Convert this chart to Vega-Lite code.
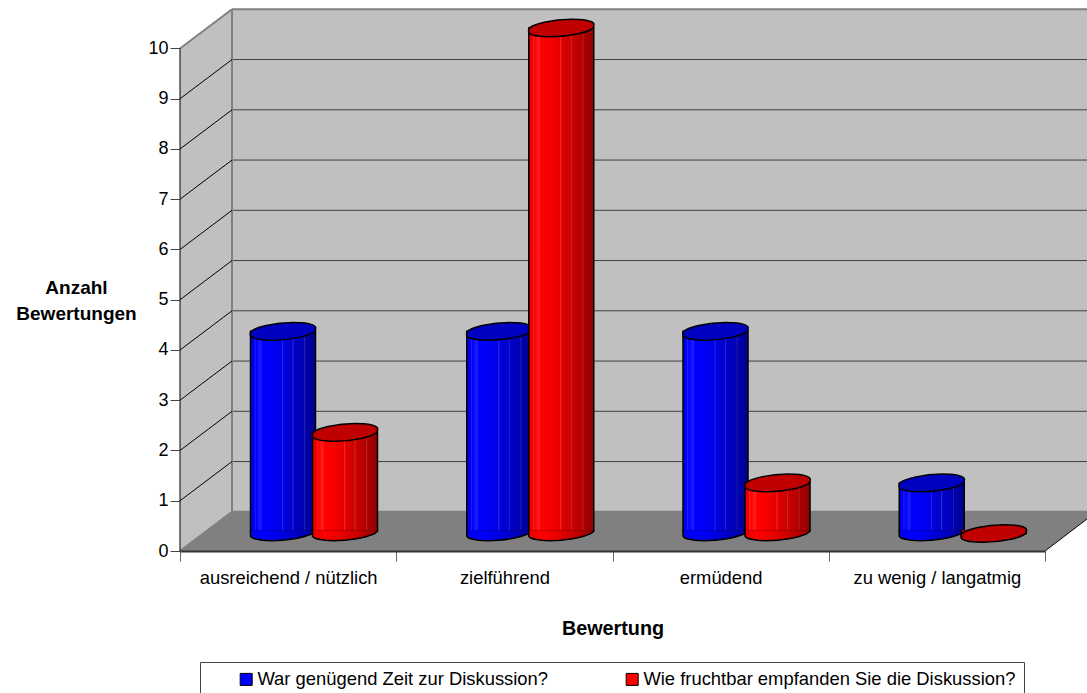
{
  "$schema": "https://vega.github.io/schema/vega-lite/v6.json",
  "autosize": "none",
  "width": 907,
  "height": 551,
  "padding": {"left": 180, "top": 0, "right": 0, "bottom": 142},
  "background": "white",
  "config": {
    "view": {"stroke": null},
    "font": "Liberation Sans",
    "axis": {"grid": false, "labelFont": "Liberation Sans", "titleFont": "Liberation Sans", "labelColor": "black", "titleColor": "black"}
  },
  "datasets": {
    "ratings": [
      {"bewertung": "ausreichend / nützlich", "frage": "War genügend Zeit zur Diskussion?", "anzahl": 4},
      {"bewertung": "ausreichend / nützlich", "frage": "Wie fruchtbar empfanden Sie die Diskussion?", "anzahl": 2},
      {"bewertung": "zielführend", "frage": "War genügend Zeit zur Diskussion?", "anzahl": 4},
      {"bewertung": "zielführend", "frage": "Wie fruchtbar empfanden Sie die Diskussion?", "anzahl": 10},
      {"bewertung": "ermüdend", "frage": "War genügend Zeit zur Diskussion?", "anzahl": 4},
      {"bewertung": "ermüdend", "frage": "Wie fruchtbar empfanden Sie die Diskussion?", "anzahl": 1},
      {"bewertung": "zu wenig / langatmig", "frage": "War genügend Zeit zur Diskussion?", "anzahl": 1},
      {"bewertung": "zu wenig / langatmig", "frage": "Wie fruchtbar empfanden Sie die Diskussion?", "anzahl": 0}
    ],
    "sideWall": [
      {"a": 0, "low": 0, "high": 10},
      {"a": 0.2405, "low": 0.78, "high": 10.78}
    ],
    "backWall": [
      {"a": 0.2405, "low": 0.78, "high": 10.78},
      {"a": 4.194, "low": 0.78, "high": 10.78}
    ],
    "floor": [
      {"a": 0, "low": 0, "high": 0},
      {"a": 0.2405, "low": 0, "high": 0.78},
      {"a": 4, "low": 0, "high": 0.78},
      {"a": 4.194, "low": 0.637, "high": 0.78}
    ],
    "sideGrid": [
      {"a": 0, "a2": 0.2405, "b": 1, "b2": 1.78},
      {"a": 0, "a2": 0.2405, "b": 2, "b2": 2.78},
      {"a": 0, "a2": 0.2405, "b": 3, "b2": 3.78},
      {"a": 0, "a2": 0.2405, "b": 4, "b2": 4.78},
      {"a": 0, "a2": 0.2405, "b": 5, "b2": 5.78},
      {"a": 0, "a2": 0.2405, "b": 6, "b2": 6.78},
      {"a": 0, "a2": 0.2405, "b": 7, "b2": 7.78},
      {"a": 0, "a2": 0.2405, "b": 8, "b2": 8.78},
      {"a": 0, "a2": 0.2405, "b": 9, "b2": 9.78},
      {"a": 0, "a2": 0, "b": 0, "b2": 10},
      {"a": 4, "a2": 4.194, "b": 0, "b2": 0.637}
    ],
    "backGrid": [
      {"a": 0.2405, "a2": 4.194, "b": 1.78, "b2": 1.78},
      {"a": 0.2405, "a2": 4.194, "b": 2.78, "b2": 2.78},
      {"a": 0.2405, "a2": 4.194, "b": 3.78, "b2": 3.78},
      {"a": 0.2405, "a2": 4.194, "b": 4.78, "b2": 4.78},
      {"a": 0.2405, "a2": 4.194, "b": 5.78, "b2": 5.78},
      {"a": 0.2405, "a2": 4.194, "b": 6.78, "b2": 6.78},
      {"a": 0.2405, "a2": 4.194, "b": 7.78, "b2": 7.78},
      {"a": 0.2405, "a2": 4.194, "b": 8.78, "b2": 8.78},
      {"a": 0.2405, "a2": 4.194, "b": 9.78, "b2": 9.78}
    ],
    "wallEdges": [
      {"a": 0.2405, "a2": 0.2405, "b": 0.78, "b2": 10.78},
      {"a": 0.2405, "a2": 4.194, "b": 10.78, "b2": 10.78},
      {"a": 0, "a2": 0.2405, "b": 10, "b2": 10.78},
      {"a": 0, "a2": 0.2405, "b": 0, "b2": 0.78},
      {"a": 0.2405, "a2": 4.194, "b": 0.78, "b2": 0.78}
    ]
  },
  "resolve": {"scale": {"x": "independent", "y": "independent"}},
  "layer": [
    {
      "layer": [
        {
          "data": {"name": "sideWall"},
          "mark": {"type": "area", "color": "#c0c0c0"},
          "encoding": {
            "x": {"field": "a", "type": "quantitative", "scale": {"domain": [0, 4.194], "nice": false, "zero": false}, "axis": null},
            "y": {
              "field": "low", "type": "quantitative",
              "scale": {"domain": [0, 10.965], "nice": false},
              "title": ["Anzahl", "Bewertungen"],
              "axis": {
                "orient": "left", "values": [0, 1, 2, 3, 4, 5, 6, 7, 8, 9, 10], "domain": false, "zindex": 1,
                "tickSize": 10, "tickColor": "#444444", "tickWidth": 1, "labelFontSize": 18, "labelPadding": 2,
                "titleFontSize": 19, "titleFontWeight": "bold", "titleAngle": 0, "titleAlign": "center",
                "titleBaseline": "middle", "titleX": -104, "titleY": 287, "titleLineHeight": 26
              }
            },
            "y2": {"field": "high"}
          }
        },
        {
          "data": {"name": "backWall"},
          "mark": {"type": "area", "color": "#c0c0c0"},
          "encoding": {
            "x": {"field": "a", "type": "quantitative"},
            "y": {"field": "low", "type": "quantitative"},
            "y2": {"field": "high"}
          }
        },
        {
          "data": {"name": "floor"},
          "mark": {"type": "area", "color": "#808080"},
          "encoding": {
            "x": {"field": "a", "type": "quantitative"},
            "y": {"field": "low", "type": "quantitative"},
            "y2": {"field": "high"}
          }
        },
        {
          "data": {"name": "backGrid"},
          "mark": {"type": "rule", "color": "#404040", "strokeWidth": 1},
          "encoding": {
            "x": {"field": "a", "type": "quantitative"}, "x2": {"field": "a2"},
            "y": {"field": "b", "type": "quantitative"}, "y2": {"field": "b2"}
          }
        },
        {
          "data": {"name": "wallEdges"},
          "mark": {"type": "rule", "color": "#808080", "strokeWidth": 2},
          "encoding": {
            "x": {"field": "a", "type": "quantitative"}, "x2": {"field": "a2"},
            "y": {"field": "b", "type": "quantitative"}, "y2": {"field": "b2"}
          }
        },
        {
          "data": {"name": "sideGrid"},
          "mark": {"type": "rule", "color": "black", "strokeWidth": 1},
          "encoding": {
            "x": {"field": "a", "type": "quantitative"}, "x2": {"field": "a2"},
            "y": {"field": "b", "type": "quantitative"}, "y2": {"field": "b2"}
          }
        }
      ]
    },
    {
      "data": {"name": "ratings"},
      "encoding": {
        "x": {
          "field": "bewertung", "type": "nominal", "sort": null,
          "scale": {"range": [0, 865], "paddingInner": 0, "paddingOuter": 0},
          "title": "Bewertung",
          "axis": {
            "orient": "bottom", "labelAngle": 0, "tickBand": "extent", "tickSize": 10, "tickColor": "#666666",
            "domainColor": "#333333", "domainWidth": 2, "labelFontSize": 18.4, "labelPadding": 7,
            "titleFontSize": 19.8, "titleFontWeight": "bold", "titleY": 77, "titleBaseline": "middle", "zindex": 1
          }
        },
        "xOffset": {
          "field": "frage", "type": "nominal", "sort": null,
          "scale": {"type": "point", "padding": 0, "range": [103, 165]}
        },
        "y": {"field": "anzahl", "type": "quantitative", "stack": null, "scale": {"domain": [0, 10], "range": [533.5, 28], "nice": false}, "axis": null}
      },
      "layer": [
        {
          "mark": {"type": "bar", "size": 65},
          "encoding": {
            "y2": {"datum": 0.05},
            "color": {
              "field": "frage", "type": "nominal", "sort": null,
              "scale": {"range": ["#0000ff", "#ff0000"]},
              "legend": {
                "title": null, "orient": "none", "legendX": 20, "legendY": 662, "columns": 2, "columnPadding": 45,
                "symbolType": "square", "symbolSize": 144, "symbolStrokeColor": "black", "symbolStrokeWidth": 1,
                "symbolOffset": 29, "labelFontSize": 18.4, "labelColor": "black", "labelFont": "Liberation Sans", "labelOffset": 2,
                "labelLimit": 500, "padding": 8, "fillColor": "white", "strokeColor": "#444444", "cornerRadius": 0
              }
            }
          }
        },
        {
          "transform": [{"filter": "datum.frage === 'War genügend Zeit zur Diskussion?'"}],
          "layer": [
            {
              "mark": {
                "type": "bar", "size": 65, "stroke": "black", "strokeWidth": 1.5,
                "fill": {"x1": 0, "y1": 0, "x2": 1, "y2": 0, "gradient": "linear", "stops": [
                  {"offset": 0, "color": "#0000e6"}, {"offset": 0.06, "color": "#0000f0"}, {"offset": 0.07, "color": "#2020ff"},
                  {"offset": 0.09, "color": "#0000ff"}, {"offset": 0.16, "color": "#2020ff"}, {"offset": 0.18, "color": "#0000ff"},
                  {"offset": 0.34, "color": "#0000f5"}, {"offset": 0.48, "color": "#0000e6"}, {"offset": 0.49, "color": "#2a2ae8"},
                  {"offset": 0.51, "color": "#0000e0"}, {"offset": 0.64, "color": "#0000cc"}, {"offset": 0.65, "color": "#2a2acc"},
                  {"offset": 0.67, "color": "#0000c8"}, {"offset": 0.82, "color": "#0000b4"}, {"offset": 0.83, "color": "#2020b4"},
                  {"offset": 0.85, "color": "#0000aa"}, {"offset": 1, "color": "#000090"}
                ]}
              },
              "encoding": {"y2": {"datum": 0.05}}
            },
            {
              "mark": {
                "type": "point", "filled": true, "size": 4225, "opacity": 1, "stroke": "black", "strokeWidth": 1.5,
                "shape": "M -1 -0.1 L -1 0.08 A 1.01 0.23 -5 0 0 1 -0.08 L 1 -0.1",
                "fill": {"x1": 0, "y1": 0, "x2": 1, "y2": 0, "gradient": "linear", "stops": [
                  {"offset": 0, "color": "#0000e6"}, {"offset": 0.18, "color": "#0000ff"}, {"offset": 0.5, "color": "#0000e0"},
                  {"offset": 0.8, "color": "#0000b8"}, {"offset": 1, "color": "#000090"}
                ]}
              },
              "encoding": {"y": {"datum": 0, "type": "quantitative"}}
            },
            {
              "mark": {
                "type": "point", "filled": true, "size": 4225, "opacity": 1, "stroke": "black", "strokeWidth": 1.5, "fill": "#0000c0",
                "shape": "M -1 0.08 A 1.01 0.23 -5 1 1 1 -0.08 A 1.01 0.23 -5 1 1 -1 0.08 Z"
              }
            }
          ]
        },
        {
          "transform": [{"filter": "datum.frage === 'Wie fruchtbar empfanden Sie die Diskussion?'"}],
          "layer": [
            {
              "mark": {
                "type": "bar", "size": 65, "stroke": "black", "strokeWidth": 1.5,
                "fill": {"x1": 0, "y1": 0, "x2": 1, "y2": 0, "gradient": "linear", "stops": [
                  {"offset": 0, "color": "#e60000"}, {"offset": 0.06, "color": "#f00000"}, {"offset": 0.07, "color": "#ff2020"},
                  {"offset": 0.09, "color": "#ff0000"}, {"offset": 0.16, "color": "#ff2020"}, {"offset": 0.18, "color": "#ff0000"},
                  {"offset": 0.34, "color": "#f50000"}, {"offset": 0.48, "color": "#e60000"}, {"offset": 0.49, "color": "#e82a2a"},
                  {"offset": 0.51, "color": "#e00000"}, {"offset": 0.64, "color": "#cc0000"}, {"offset": 0.65, "color": "#cc2a2a"},
                  {"offset": 0.67, "color": "#c80000"}, {"offset": 0.82, "color": "#b40000"}, {"offset": 0.83, "color": "#b42020"},
                  {"offset": 0.85, "color": "#aa0000"}, {"offset": 1, "color": "#900000"}
                ]}
              },
              "encoding": {"y2": {"datum": 0.05}}
            },
            {
              "mark": {
                "type": "point", "filled": true, "size": 4225, "opacity": 1, "stroke": "black", "strokeWidth": 1.5,
                "shape": "M -1 -0.1 L -1 0.08 A 1.01 0.23 -5 0 0 1 -0.08 L 1 -0.1",
                "fill": {"x1": 0, "y1": 0, "x2": 1, "y2": 0, "gradient": "linear", "stops": [
                  {"offset": 0, "color": "#e60000"}, {"offset": 0.18, "color": "#ff0000"}, {"offset": 0.5, "color": "#e00000"},
                  {"offset": 0.8, "color": "#b80000"}, {"offset": 1, "color": "#900000"}
                ]}
              },
              "encoding": {"y": {"datum": 0, "type": "quantitative"}}
            },
            {
              "mark": {
                "type": "point", "filled": true, "size": 4225, "opacity": 1, "stroke": "black", "strokeWidth": 1.5, "fill": "#c00000",
                "shape": "M -1 0.08 A 1.01 0.23 -5 1 1 1 -0.08 A 1.01 0.23 -5 1 1 -1 0.08 Z"
              }
            }
          ]
        }
      ]
    }
  ]
}
